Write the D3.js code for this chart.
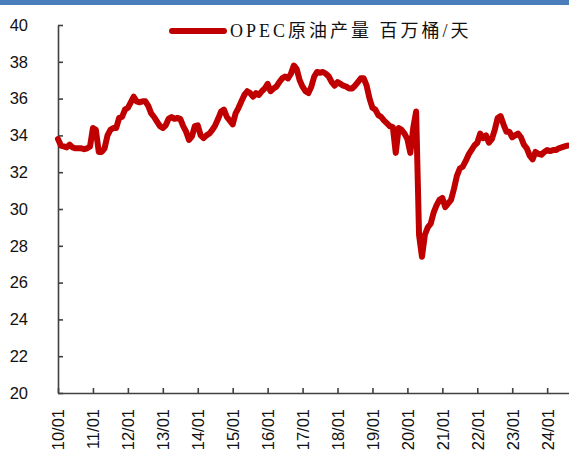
<!DOCTYPE html>
<html>
<head>
<meta charset="utf-8">
<script src="https://cdn.jsdelivr.net/npm/d3@7"></script>
<style>
  body { margin: 0; background: #fff; }
  .axis text { font-family: "Liberation Sans", Arial, sans-serif; font-size: 16.5px; fill: #111; }
  .axis path, .axis line { stroke: #404040; stroke-width: 1.6; }
</style>
</head>
<body>
<div id="chart"></div>
<script>
// OPEC crude output, million barrels per day, monthly from 2010-01
let opecOutput = [
  33.8, 33.45, 33.4, 33.35, 33.5, 33.35, 33.3, 33.3, 33.3, 33.25, 33.3, 33.4,   // 2010
  34.4, 34.3, 33.1, 33.1, 33.3, 34.0, 34.3, 34.4, 34.4, 34.95, 35.0, 35.4,      // 2011
  35.5, 35.8, 36.1, 35.85, 35.8, 35.85, 35.85, 35.6, 35.2, 35.0, 34.75, 34.5,   // 2012
  34.4, 34.55, 34.9, 35.0, 34.9, 34.95, 34.9, 34.5, 34.2, 33.75, 33.95, 34.5,   // 2013
  34.55, 34.0, 33.85, 34.0, 34.1, 34.3, 34.55, 34.9, 35.3, 35.4, 35.0, 34.8,    // 2014
  34.6, 35.2, 35.5, 35.85, 36.2, 36.4, 36.3, 36.1, 36.3, 36.2, 36.4, 36.55,     // 2015
  36.8, 36.4, 36.55, 36.65, 36.9, 37.1, 37.2, 37.1, 37.35, 37.8, 37.6, 37.0,    // 2016
  36.65, 36.4, 36.3, 36.65, 37.2, 37.45, 37.4, 37.45, 37.35, 37.2, 36.9, 36.7,  // 2017
  36.9, 36.8, 36.7, 36.65, 36.55, 36.55, 36.7, 36.9, 37.1, 37.1, 36.7, 36.0,    // 2018
  35.5, 35.4, 35.1, 35.0, 34.8, 34.65, 34.5, 34.45, 33.05, 34.4, 34.3, 34.1,    // 2019
  33.8, 33.05, 34.4, 35.3, 28.6, 27.4, 28.6, 29.0, 29.2, 29.8, 30.2, 30.5,      // 2020
  30.6, 30.1, 30.3, 30.5, 31.1, 31.8, 32.2, 32.3, 32.6, 32.95, 33.2, 33.45,     // 2021
  33.6, 34.1, 33.85, 34.0, 33.6, 33.8, 34.3, 34.95, 35.05, 34.6, 34.2, 34.2,    // 2022
  33.9, 34.0, 34.1, 33.9, 33.5, 33.3, 32.9, 32.7, 33.1, 33.0, 32.95, 33.1,      // 2023
  33.2, 33.15, 33.2, 33.2, 33.3, 33.35, 33.4, 33.45                             // 2024
];

let tickLabels = ["10/01", "11/01", "12/01", "13/01", "14/01", "15/01", "16/01", "17/01",
  "18/01", "19/01", "20/01", "21/01", "22/01", "23/01", "24/01"];

let yTicks = [20, 22, 24, 26, 28, 30, 32, 34, 36, 38, 40];

let legendLabel = "OPEC原油产量 百万桶/天";

let svgWidth = 569;
let svgHeight = 463;

let plot = { left: 58, right: 569, top: 25, bottom: 393 };

let svg = d3.select("#chart")
  .append("svg")
  .attr("width", svgWidth)
  .attr("height", svgHeight);

// blue strip at the very top
svg.append("rect")
  .attr("x", 0)
  .attr("y", 0)
  .attr("width", svgWidth)
  .attr("height", 5)
  .attr("fill", "#4a7ebb");

let xScale = d3.scaleLinear()
  .domain([0, 175.5])
  .range([plot.left, plot.right]);

let yScale = d3.scaleLinear()
  .domain([20, 40])
  .range([plot.bottom, plot.top]);

// y axis, ticks pointing inward
let leftAxis = d3.axisLeft(yScale)
  .tickValues(yTicks)
  .tickSize(-5)
  .tickSizeOuter(0)
  .tickPadding(30);

svg.append("g")
  .attr("class", "axis")
  .attr("transform", `translate(${plot.left}, 0)`)
  .call(leftAxis);

// x axis, one tick per January
let bottomAxis = d3.axisBottom(xScale)
  .tickValues(tickLabels.map((d, i) => i * 12))
  .tickFormat((d, i) => tickLabels[i])
  .tickSize(-5)
  .tickSizeOuter(0);

let xAxis = svg.append("g")
  .attr("class", "axis")
  .attr("transform", `translate(0, ${plot.bottom})`)
  .call(bottomAxis);

xAxis.selectAll("text")
  .attr("transform", "rotate(-90)")
  .attr("text-anchor", "end")
  .attr("x", -16)
  .attr("y", 0)
  .attr("dy", "0.36em");

// the series line
let line = d3.line()
  .x((d, i) => xScale(i))
  .y(d => yScale(d))
  .curve(d3.curveLinear);

svg.append("path")
  .datum(opecOutput)
  .attr("d", line)
  .attr("fill", "none")
  .attr("stroke", "#c00000")
  .attr("stroke-width", 6)
  .attr("stroke-linejoin", "round")
  .attr("stroke-linecap", "round");

// legend
svg.append("line")
  .attr("x1", 172)
  .attr("x2", 224)
  .attr("y1", 31)
  .attr("y2", 31)
  .attr("stroke", "#c00000")
  .attr("stroke-width", 6)
  .attr("stroke-linecap", "round");

svg.append("text")
  .attr("x", 230)
  .attr("y", 37)
  .attr("font-family", "'Liberation Serif', 'Noto Sans CJK SC', serif")
  .attr("font-size", "18px")
  .attr("letter-spacing", "3px")
  .attr("fill", "#111")
  .text(legendLabel);
</script>
</body>
</html>
